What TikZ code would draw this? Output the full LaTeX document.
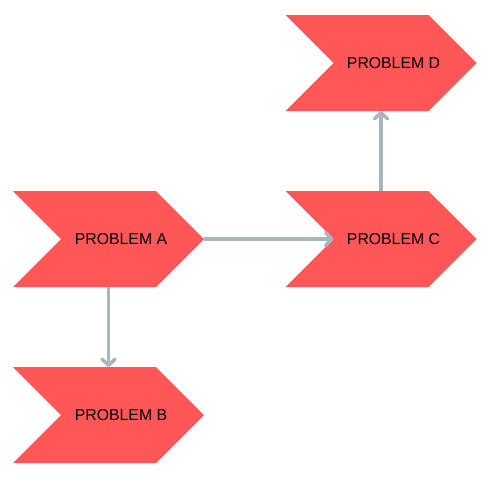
\documentclass[tikz,border=0pt]{standalone}
\usepackage{fontspec}
\setmainfont{Liberation Sans}
\usepackage{xcolor}
\usetikzlibrary{positioning,arrows.meta,shapes.symbols}
\definecolor{probred}{HTML}{FF5757}
\definecolor{linkgray}{HTML}{A9B6BE}

\begin{document}
\begin{tikzpicture}[
      x=1pt, y=-1pt,
      font=\fontsize{15.8pt}{18pt}\selectfont,
      prob/.style={shape=signal, signal from=west, signal to=east, signal pointer angle=90,
                   fill=probred, minimum width=191pt, minimum height=96pt, inner sep=0pt, outer sep=0pt,
                   label={[xshift=12.5pt]center:#1}},
      arr/.style={-{Straight Barb[length=6pt, width=13pt, round]}, line width=3.6pt, linkgray}
    ]
    \useasboundingbox (0,0) rectangle (486,490);
    % problems
    \node[prob=PROBLEM A] (pa) at (108.5,239) {};
    \node[prob=PROBLEM B] (pb) at (108.5,415) {};
    \node[prob=PROBLEM C] (pc) at (381,239) {};
    \node[prob=PROBLEM D] (pd) at (381,63) {};
    % links
    \draw[arr] (pa.east) -- (pc.west);
    \draw[arr] (pa.south) -- (pb.north);
    \draw[arr] (pc.north) -- (pd.south);
  \end{tikzpicture}
\end{document}
